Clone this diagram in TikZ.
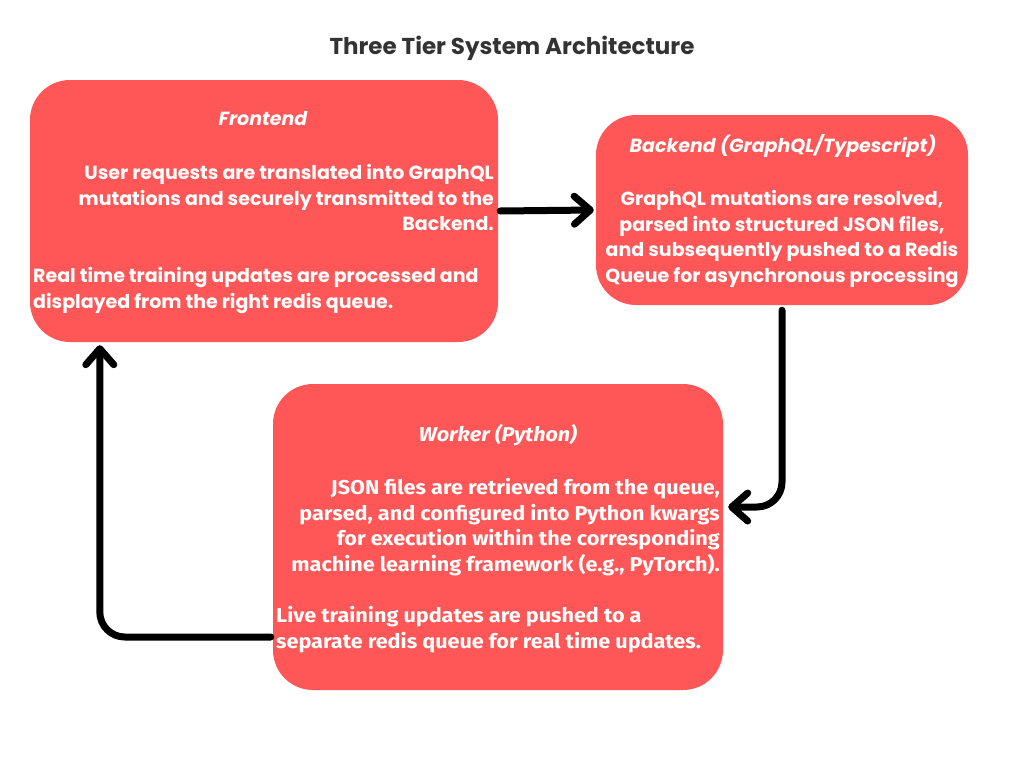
\documentclass[tikz,border=0pt]{standalone}
\usepackage{fontspec}
\setmainfont{Poppins}
\newfontfamily\workerfont{Fira Sans}[FakeStretch=1.08]
\usetikzlibrary{arrows.meta,positioning}
\definecolor{tierred}{HTML}{FF5757}
\definecolor{titlegray}{HTML}{333333}
\begin{document}
\begin{tikzpicture}[x=1pt,y=-1pt,
			tier/.style = {shape=rectangle, rounded corners=40pt,
				fill=tierred, draw=none, inner sep=0pt},
			head/.style = {text=white, inner sep=0pt,
				font=\bfseries\itshape\fontsize{19}{22}\selectfont},
			body/.style = {text=white, inner sep=0pt,
				font=\bfseries\fontsize{19}{25.7}\selectfont},
			flow/.style = {line width=7pt, line cap=round, rounded corners=25pt,
				-{Straight Barb[length=16pt,width=28pt,round]}}]
			\useasboundingbox (0,0) rectangle (1024,768);
			\node[text=titlegray, font=\bfseries\fontsize{23}{26}\selectfont] (title) at (512,48) {Three Tier System Architecture};
			% the three tiers
			\node[tier, minimum width=468pt, minimum height=262pt] (front) at (264,211) {};
			\node[tier, minimum width=372pt, minimum height=190pt] (back) at (782,210) {};
			\node[tier, minimum width=450pt, minimum height=306pt] (work) at (498,537) {};
			\node[head] (fronthead) at (263,119) {Frontend};
			\node[body, align=right, anchor=north east] (frontreq) at (494,164) {User requests are translated into GraphQL\\mutations and securely transmitted to the\\Backend.};
			\node[body, align=left, anchor=north west] (frontupd) at (33,267) {Real time training updates are processed and\\displayed from the right redis queue.};
			\node[head] (backhead) at (783,146) {Backend (GraphQL/Typescript)};
			\node[body, align=center, anchor=north] (backtext) at (782,190) {GraphQL mutations are resolved,\\parsed into structured JSON files,\\and subsequently pushed to a Redis\\Queue for asynchronous processing};
			\node[head, font=\workerfont\bfseries\itshape\fontsize{20}{22}\selectfont] (workhead) at (498,435) {Worker (Python)};
			\node[body, font=\workerfont\bfseries\fontsize{20}{25.7}\selectfont, align=right, anchor=north east] (worktext) at (720,478) {JSON files are retrieved from the queue,\\parsed, and configured into Python kwargs\\for execution within the corresponding\\machine learning framework (e.g., PyTorch).};
			\node[body, font=\workerfont\bfseries\fontsize{20}{25.7}\selectfont, align=left, anchor=north west] (workupd) at (276,606) {Live training updates are pushed to a\\separate redis queue for real time updates.};
			% connectors
			\draw[flow] ([xshift=2pt]front.east) -- ([xshift=-2pt]back.west);
			\draw[flow] ([yshift=-5pt]back.south) |- ([xshift=5pt,yshift=30pt]work.east);
			\draw[flow] ([xshift=-2pt,yshift=-100pt]work.west) -| ([xshift=70pt,yshift=-3pt]front.south west);
		\end{tikzpicture}
\end{document}
